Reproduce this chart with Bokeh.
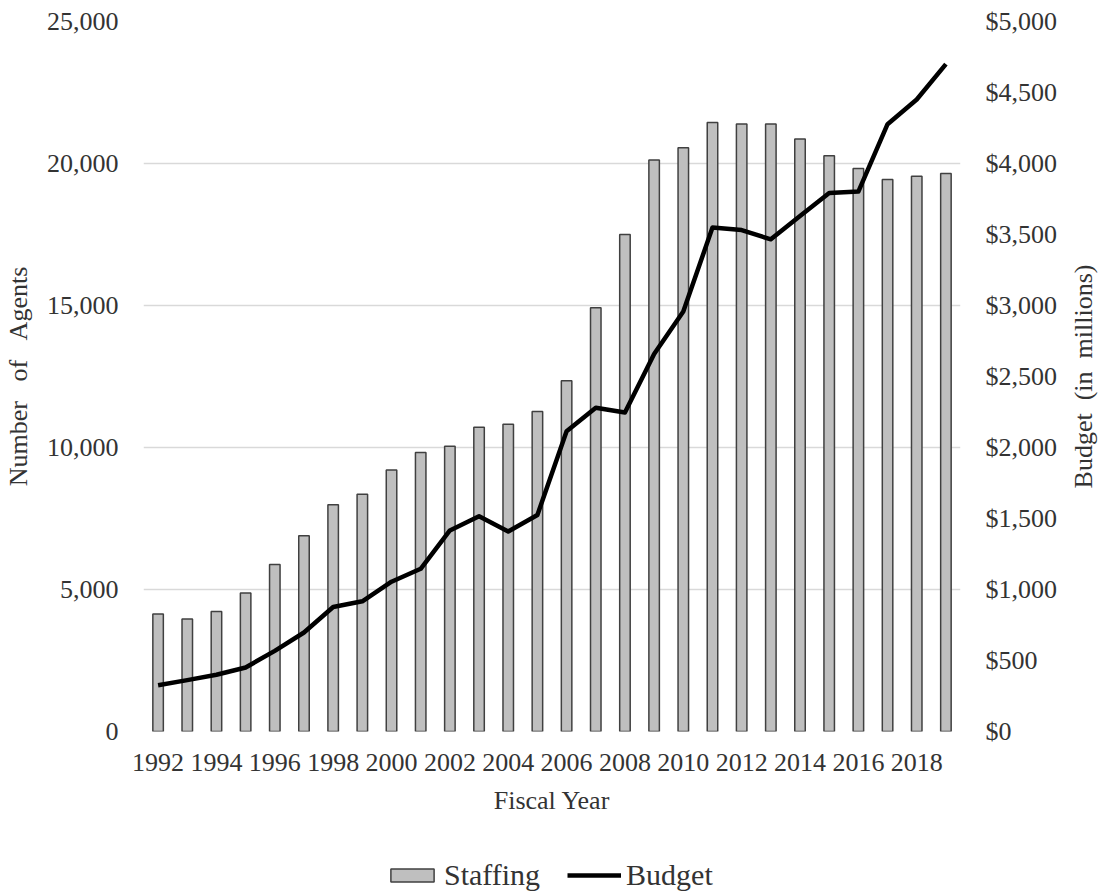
from bokeh.plotting import figure
from bokeh.layouts import column, row
from bokeh.models import (Range1d, LinearAxis, FixedTicker, SingleIntervalTicker,
                          NumeralTickFormatter, Legend, LegendItem, ColumnDataSource)
from bokeh.embed import file_html
from bokeh.resources import INLINE

# ---- data ----
years = list(range(1992, 2020))
staffing = [4139, 3965, 4226, 4881, 5878, 6895, 7982, 8351, 9212, 9821,
            10045, 10717, 10819, 11264, 12349, 14923, 17499, 20119, 20558, 21444,
            21394, 21391, 20863, 20273, 19828, 19437, 19555, 19648]
budget = [326, 362, 400, 451, 568, 697, 877, 917, 1055, 1146,
          1416, 1516, 1409, 1525, 2115, 2280, 2246, 2659, 2958, 3549,
          3531, 3466, 3631, 3792, 3802, 4277, 4451, 4700]
x_tick_years = list(range(1992, 2019, 2))
series_names = ["Staffing", "Budget"]

FONT = "Liberation Serif"
TXT = "#333333"
BAR_STYLE = dict(fill_color="#BFBFBF", line_color="#404040", line_width=1.5)
LINE_STYLE = dict(line_color="black", line_width=4.5, line_join="round")

src = ColumnDataSource(dict(year=years, staffing=staffing, budget=budget))

def style_axis(ax):
    ax.axis_line_color = None
    ax.major_tick_line_color = None
    ax.minor_tick_line_color = None
    ax.major_tick_out = 0
    ax.minor_tick_out = 0
    ax.major_label_text_font = FONT
    ax.major_label_text_font_size = "26px"
    ax.major_label_text_color = TXT
    ax.axis_label_text_font = FONT
    ax.axis_label_text_font_size = "26px"
    ax.axis_label_text_font_style = "normal"
    ax.axis_label_text_color = TXT

p = figure(width=1065, height=828, output_backend="svg", toolbar_location=None,
           x_range=Range1d(1991.5, 2019.5), y_range=Range1d(0, 25000),
           min_border_left=143, min_border_right=105, min_border_top=21,
           min_border_bottom=97)
p.outline_line_color = None
p.extra_y_ranges = {"budget": Range1d(0, 5000)}

bars = p.vbar(x="year", top="staffing", width=0.36, source=src, **BAR_STYLE)
line = p.line(x="year", y="budget", source=src, y_range_name="budget", **LINE_STYLE)

xa = p.xaxis[0]
xa.ticker = FixedTicker(ticks=x_tick_years)
xa.formatter = NumeralTickFormatter(format="0")
xa.axis_label = "Fiscal Year"

ya = p.yaxis[0]
ya.ticker = SingleIntervalTicker(interval=5000)
ya.formatter = NumeralTickFormatter(format="0,0")
ya.axis_label = "Number \u00a0\u00a0of \u00a0\u00a0Agents"

ra = LinearAxis(y_range_name="budget", ticker=SingleIntervalTicker(interval=500),
                formatter=NumeralTickFormatter(format="$0,0"))
p.add_layout(ra, "right")

for ax in (xa, ya, ra):
    style_axis(ax)

xa.major_label_standoff = 22
xa.axis_label_standoff = 12
ya.major_label_standoff = 25
ya.axis_label_standoff = 11
ra.major_label_standoff = 25

p.xgrid.grid_line_color = None
p.ygrid.grid_line_color = "#D9D9D9"
p.ygrid.grid_line_width = 1.5

# ---- strip on the right carrying the budget axis title (reads bottom-to-top) ----
rt = figure(width=37, height=828, output_backend="svg", toolbar_location=None,
            x_range=Range1d(0, 1), y_range=Range1d(0, 5000), x_axis_type=None,
            min_border_left=0, min_border_right=0, min_border_top=21,
            min_border_bottom=97)
rt.outline_line_color = None
rt.grid.visible = False
rax = rt.yaxis[0]
style_axis(rax)
rax.ticker = FixedTicker(ticks=[])
rax.major_label_standoff = 0
rax.axis_label_standoff = 0
rax.axis_label = "Budget \u00a0(in \u00a0millions)"

# ---- legend strip below the chart ----
lg = figure(width=1102, height=64, output_backend="svg", toolbar_location=None,
            x_range=Range1d(0, 1), y_range=Range1d(0, 1),
            x_axis_type=None, y_axis_type=None,
            min_border_left=0, min_border_right=0, min_border_top=0, min_border_bottom=0)
lg.outline_line_color = None
lg.grid.visible = False
# hidden copies of the two series: only their legend swatches are shown
lbar = lg.vbar(x="year", top="staffing", width=0.36, source=src, visible=False, **BAR_STYLE)
lline = lg.line(x="year", y="budget", source=src, visible=False, **LINE_STYLE)

legend = Legend(items=[LegendItem(label=series_names[0], renderers=[lbar]),
                       LegendItem(label=series_names[1], renderers=[lline])],
                orientation="horizontal", location=(385, 0),
                label_text_font=FONT, label_text_font_size="30px",
                label_text_color=TXT, glyph_width=54, glyph_height=16,
                label_standoff=5, spacing=27, padding=0, margin=0,
                border_line_color=None, background_fill_alpha=0,
                inactive_fill_alpha=0)
lg.add_layout(legend, "center")

layout = column(row(p, rt, spacing=0), lg, spacing=0)
open("out.html", "w").write(file_html(layout, INLINE))
